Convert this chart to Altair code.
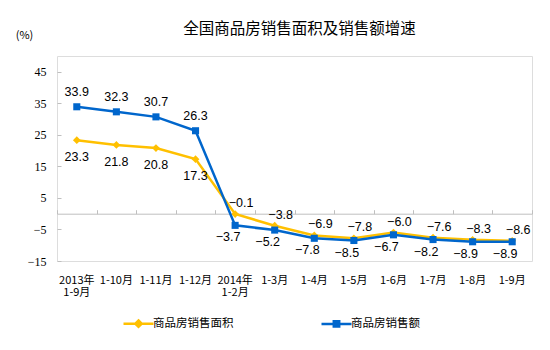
import altair as alt
import pandas as pd

categories = ["2013年\n1-9月", "1-10月", "1-11月", "1-12月", "2014年\n1-2月", "1-3月",
              "1-4月", "1-5月", "1-6月", "1-7月", "1-8月", "1-9月"]
area_growth = [23.3, 21.8, 20.8, 17.3, -0.1, -3.8, -6.9, -7.8, -6.0, -7.6, -8.3, -8.6]
sales_growth = [33.9, 32.3, 30.7, 26.3, -3.7, -5.2, -7.8, -8.5, -6.7, -8.2, -8.9, -8.9]
series_names = ["商品房销售面积", "商品房销售额"]
series_colors = ["#FFC000", "#0066CC"]
y_ticks = [-15, -5, 5, 15, 25, 35, 45]
title_text = "全国商品房销售面积及销售额增速"

df = pd.DataFrame({
    "cat": categories * 2,
    "series": [series_names[0]] * len(categories) + [series_names[1]] * len(categories),
    "value": area_growth + sales_growth,
    "idx": list(range(len(categories))) * 2,
})

W, H = 475, 205
Y_MIN, Y_MAX = -15, 50
GRAY = "#BFBFBF"
CJK = "Noto Sans CJK SC"

xscale = alt.Scale(type="band", domain=categories, paddingInner=0, paddingOuter=0)
yscale = alt.Scale(domain=[Y_MIN, Y_MAX], nice=False, zero=False)


def X(axis):
    return alt.X("cat:N", scale=xscale, bandPosition=0.5, axis=axis, title=None)


def Y(axis):
    return alt.Y("value:Q", scale=yscale, axis=axis, title=None)


base = alt.Chart(df)
is_area = alt.datum.series == series_names[0]
is_sales = alt.datum.series == series_names[1]

# legend symbols: a short line with the marker in its middle
legend_shapes = ["M-1.5,0H1.5M0,-0.32L0.32,0L0,0.32L-0.32,0Z",
                 "M-1.5,0H1.5M-0.27,-0.27H0.27V0.27H-0.27Z"]
legend = alt.Legend(
    title=None, orient="none", legendX=70, legendY=256, direction="horizontal",
    labelFont=CJK, labelFontSize=11.5, labelColor="#000000", symbolSize=400,
    labelOffset=3, columnPadding=82, padding=0, symbolStrokeWidth=2.5,
)
legend_layer = base.transform_filter(alt.datum.idx == 0).mark_point(
    size=400, strokeWidth=2.5, opacity=1, fillOpacity=1, clip=True
).encode(
    x=alt.value(-1000), y=alt.value(-1000),
    fill=alt.Fill("series:N", scale=alt.Scale(domain=series_names, range=series_colors), legend=legend),
    stroke=alt.Stroke("series:N", scale=alt.Scale(domain=series_names, range=series_colors), legend=legend),
    shape=alt.Shape("series:N", scale=alt.Scale(domain=series_names, range=legend_shapes), legend=legend),
)

area_line = base.transform_filter(is_area).mark_line(strokeWidth=2.5, color=series_colors[0]).encode(
    x=X(alt.Axis(orient="bottom", domain=False, ticks=False, grid=False,
                 labelExpr="split(datum.label, '\\n')", labelFont=CJK,
                 labelFontSize=11, labelColor="#000000", labelPadding=13,
                 labelLineHeight=12.5, labelAngle=0)),
    y=Y(alt.Axis(orient="left", values=y_ticks, domain=False, ticks=False, grid=False,
                 labelFont="Liberation Serif", labelFontSize=12, labelColor="#000000",
                 labelPadding=11, title="(%)", titleAngle=0, titleX=-33, titleY=-21,
                 titleAlign="center", titleBaseline="middle", titleFont=CJK,
                 titleFontSize=11, titleFontWeight="normal", titleColor="#000000")),
    order=alt.Order("idx:Q"),
)

area_pts = base.transform_filter(is_area).mark_point(
    shape="diamond", filled=True, size=60, opacity=1, color=series_colors[0]
).encode(
    x=X(alt.Axis(orient="top", offset=-(H * Y_MAX / (Y_MAX - Y_MIN)), labels=False,
                 grid=False, domainColor=GRAY, tickColor=GRAY, tickSize=4,
                 tickBand="extent", domainWidth=1)),
    y=Y(alt.Axis(orient="right", offset=-W, values=y_ticks, labels=False, domain=False,
                 grid=False, tickColor=GRAY, tickSize=4)),
)

sales_line = base.transform_filter(is_sales).mark_line(strokeWidth=2.5, color=series_colors[1]).encode(
    x=X(None), y=Y(None), order=alt.Order("idx:Q"),
)

sales_pts = base.transform_filter(is_sales).mark_point(
    shape="square", filled=True, size=50, opacity=1, color=series_colors[1]
).encode(x=X(None), y=Y(None))


def labels(series, positive, dx, dy):
    cond = (alt.datum.series == series) & ((alt.datum.value > 0) if positive else (alt.datum.value <= 0))
    return base.transform_filter(cond).mark_text(
        dx=dx, dy=dy, fontSize=12.5, font="Liberation Sans", color="#000000", baseline="middle"
    ).encode(x=X(None), y=Y(None), text=alt.Text("value:Q", format=".1f"))


chart = alt.layer(
    area_line, area_pts, sales_line, sales_pts, legend_layer,
    labels(series_names[1], True, 0, -15),
    labels(series_names[1], False, -7, 12),
    labels(series_names[0], True, 0, 17),
    labels(series_names[0], False, 6, -11),
).resolve_axis(x="independent", y="independent").properties(
    width=W, height=H,
    autosize="none",
    padding={"left": 57, "top": 56, "right": 18, "bottom": 89},
    title=alt.TitleParams(title_text, font=CJK, fontSize=15.5, fontWeight="normal",
                          color="#000000", anchor="middle", offset=-8, dx=5),
).configure_view(stroke=GRAY, strokeWidth=1).configure(background="white")

chart.save("out.html", embed_options={"renderer": "svg", "actions": False})
